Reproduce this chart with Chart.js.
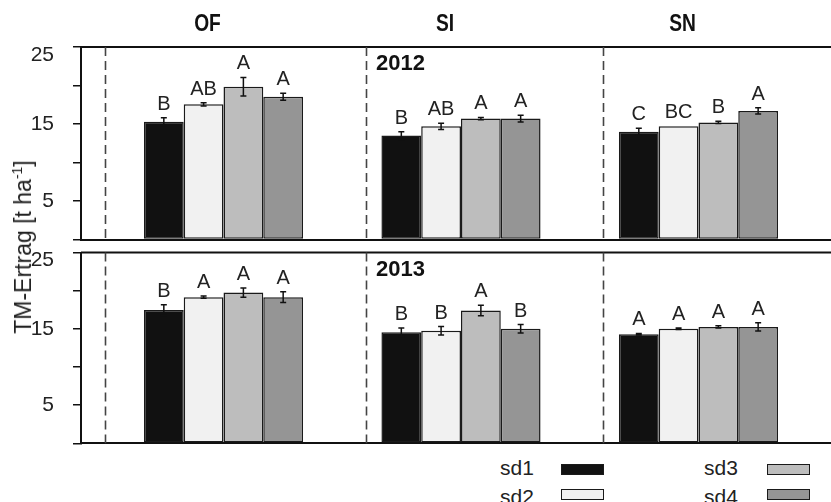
<!DOCTYPE html>
<html>
<head>
<meta charset="utf-8">
<script src="https://cdn.jsdelivr.net/npm/chart.js@4.4.1/dist/chart.umd.min.js"></script>
<style>
  body { margin: 0; background: #fff; }
  #wrap { position: relative; width: 831px; height: 502px; overflow: hidden; font-family: 'Liberation Sans', Arial, sans-serif; color: #222; }
  canvas { position: absolute; left: 0; }
  #c2012 { top: 0; }
  #c2013 { top: 236px; }
  #ytitle { position: absolute; left: 23px; top: 247px; transform: translate(-50%, -50%) rotate(-90deg); font-size: 23px; white-space: nowrap; line-height: 24px; }
  #ytitle sup { font-size: 14px; line-height: 0; }
  .lg-text { position: absolute; font-size: 21px; line-height: 24px; }
  .lg-box { position: absolute; width: 43px; height: 11px; box-sizing: border-box; border: 1.5px solid #1a1a1a; }
</style>
</head>
<body>
<div id="wrap">
  <canvas id="c2012" width="831" height="242"></canvas>
  <canvas id="c2013" width="831" height="212"></canvas>
  <div id="ytitle">TM-Ertrag [t ha<sup>-1</sup>]</div>
  <div id="legend"></div>
</div>
<script>
const groups = ['OF', 'SI', 'SN'];
const series = ['sd1', 'sd2', 'sd3', 'sd4'];
const fills = ['#111111', '#f1f1f1', '#bdbdbd', '#959595'];

// rows = sd1..sd4, columns = OF, SI, SN
const mean2012 = [
  [15.3, 13.5, 14.0],
  [17.55, 14.7, 14.7],
  [19.85, 15.7, 15.2],
  [18.55, 15.7, 16.7]
];
const se2012 = [
  [0.5, 0.5, 0.45],
  [0.2, 0.4, 0],
  [1.2, 0.15, 0.15],
  [0.45, 0.45, 0.4]
];
const letters2012 = [
  ['B', 'B', 'C'],
  ['AB', 'AB', 'BC'],
  ['A', 'A', 'B'],
  ['A', 'A', 'A']
];

const mean2013 = [
  [17.45, 14.55, 14.3],
  [19.15, 14.75, 15.0],
  [19.75, 17.4, 15.25],
  [19.15, 15.0, 15.25]
];
const se2013 = [
  [0.7, 0.55, 0.1],
  [0.15, 0.55, 0.1],
  [0.6, 0.7, 0.15],
  [0.7, 0.55, 0.55]
];
const letters2013 = [
  ['B', 'B', 'A'],
  ['A', 'B', 'A'],
  ['A', 'A', 'A'],
  ['A', 'B', 'A']
];

const yTicks = [0, 5, 10, 15, 20, 25];
const yLabels = [5, 15, 25];

// dashed separators, in x units (groups sit at 0, 1, 2)
const separators = [-0.5, 0.6, 1.6];

const FONT = "'Liberation Sans', Arial, sans-serif";

function decorPlugin(year, showTitles) {
  return {
    id: 'decor',
    afterDatasetsDraw(chart) {
      const { ctx, chartArea: a, scales: { x, y } } = chart;
      ctx.save();
      // top edge of the panel
      ctx.strokeStyle = '#111';
      ctx.lineWidth = 2;
      ctx.beginPath();
      ctx.moveTo(a.left, a.top);
      ctx.lineTo(a.right, a.top);
      ctx.stroke();

      ctx.setLineDash([9, 5]);
      ctx.lineWidth = 1.6;
      ctx.strokeStyle = '#444';
      for (const s of separators) {
        const px = Math.round(x.getPixelForValue(s)) + 0.5;
        ctx.beginPath();
        ctx.moveTo(px, a.top);
        ctx.lineTo(px, a.bottom);
        ctx.stroke();
      }
      ctx.setLineDash([]);

      chart.data.datasets.forEach((ds, i) => {
        chart.getDatasetMeta(i).data.forEach((bar, j) => {
          const m = ds.data[j].y;
          const e = ds.errs[j];
          const top = y.getPixelForValue(m + e);
          const bot = y.getPixelForValue(m - e);
          if (e > 0) {
            ctx.strokeStyle = '#111';
            ctx.lineWidth = 1.5;
            ctx.beginPath();
            ctx.moveTo(bar.x, top); ctx.lineTo(bar.x, bot);
            ctx.moveTo(bar.x - 3, top); ctx.lineTo(bar.x + 3, top);
            ctx.moveTo(bar.x - 3, bot); ctx.lineTo(bar.x + 3, bot);
            ctx.stroke();
          }
          ctx.fillStyle = '#222';
          ctx.font = '20px ' + FONT;
          ctx.textAlign = 'center';
          ctx.textBaseline = 'alphabetic';
          ctx.fillText(ds.letters[j], bar.x, top - 8);
        });
      });

      ctx.fillStyle = '#111';
      ctx.font = 'bold 22px ' + FONT;
      ctx.textAlign = 'left';
      ctx.textBaseline = 'middle';
      ctx.fillText(year, x.getPixelForValue(separators[1]) + 10, a.top + 17);

      if (showTitles) {
        // site names are set in a narrow bold face
        ctx.font = 'bold 24px ' + FONT;
        ctx.textAlign = 'center';
        groups.forEach((g, j) => {
          ctx.save();
          ctx.translate(x.getPixelForValue(j) - 16, 24);
          ctx.scale(0.8, 1);
          ctx.fillText(g, 0, 0);
          ctx.restore();
        });
      }
      ctx.restore();
    }
  };
}

function makeChart(id, year, means, errs, letters, padTop, padBottom, showTitles) {
  const datasets = series.map((name, i) => ({
    label: name,
    data: means[i].map((v, j) => ({ x: j, y: v })),
    errs: errs[i],
    letters: letters[i],
    backgroundColor: fills[i],
    borderColor: '#1a1a1a',
    borderWidth: 1.5,
    borderSkipped: false,
    categoryPercentage: 0.67,
    barPercentage: 1
  }));

  return new Chart(document.getElementById(id), {
    type: 'bar',
    data: { datasets },
    options: {
      responsive: false,
      animation: false,
      layout: { padding: { top: padTop, bottom: padBottom, left: 0, right: 0 } },
      plugins: { legend: { display: false }, tooltip: { enabled: false } },
      scales: {
        x: {
          type: 'linear',
          min: -0.6,
          max: 2.558,
          offset: false,
          afterBuildTicks: (s) => { s.ticks = groups.map((g, j) => ({ value: j })); },
          grid: { display: false },
          ticks: { display: false },
          border: { display: true, color: '#111', width: 2 },
          afterFit: (s) => { s.height = 0; }
        },
        y: {
          min: 0,
          max: 25,
          afterBuildTicks: (s) => { s.ticks = yTicks.map(v => ({ value: v })); },
          ticks: {
            padding: 19,
            color: '#222',
            font: { size: 21, family: FONT, lineHeight: '16px' },
            // the top label sits a little below its tick, as in the original
            callback: (v) => {
              if (!yLabels.includes(v)) return '';
              return v === 25 ? ['', String(v)] : String(v);
            }
          },
          grid: { drawOnChartArea: false, tickLength: 8, color: '#111', lineWidth: 1.5 },
          border: { color: '#111', width: 2 },
          afterFit: (s) => { s.width = 81; s.paddingTop = 0; s.paddingBottom = 0; }
        }
      }
    },
    plugins: [decorPlugin(year, showTitles)]
  });
}

makeChart('c2012', '2012', mean2012, se2012, letters2012, 47, 2.5, true);
makeChart('c2013', '2013', mean2013, se2013, letters2013, 16.5, 4.7, false);

// legend: two columns, label left of its swatch
const legend = document.getElementById('legend');
series.forEach((name, i) => {
  const col = Math.floor(i / 2);
  const row = i % 2;
  const t = document.createElement('div');
  t.className = 'lg-text';
  t.textContent = name;
  t.style.left = (500 + col * 204) + 'px';
  t.style.top = (456 + row * 28.5) + 'px';
  legend.appendChild(t);
  const b = document.createElement('div');
  b.className = 'lg-box';
  b.style.background = fills[i];
  b.style.left = (561 + col * 206) + 'px';
  b.style.top = (464 + row * 24.5) + 'px';
  legend.appendChild(b);
});
</script>
</body>
</html>
